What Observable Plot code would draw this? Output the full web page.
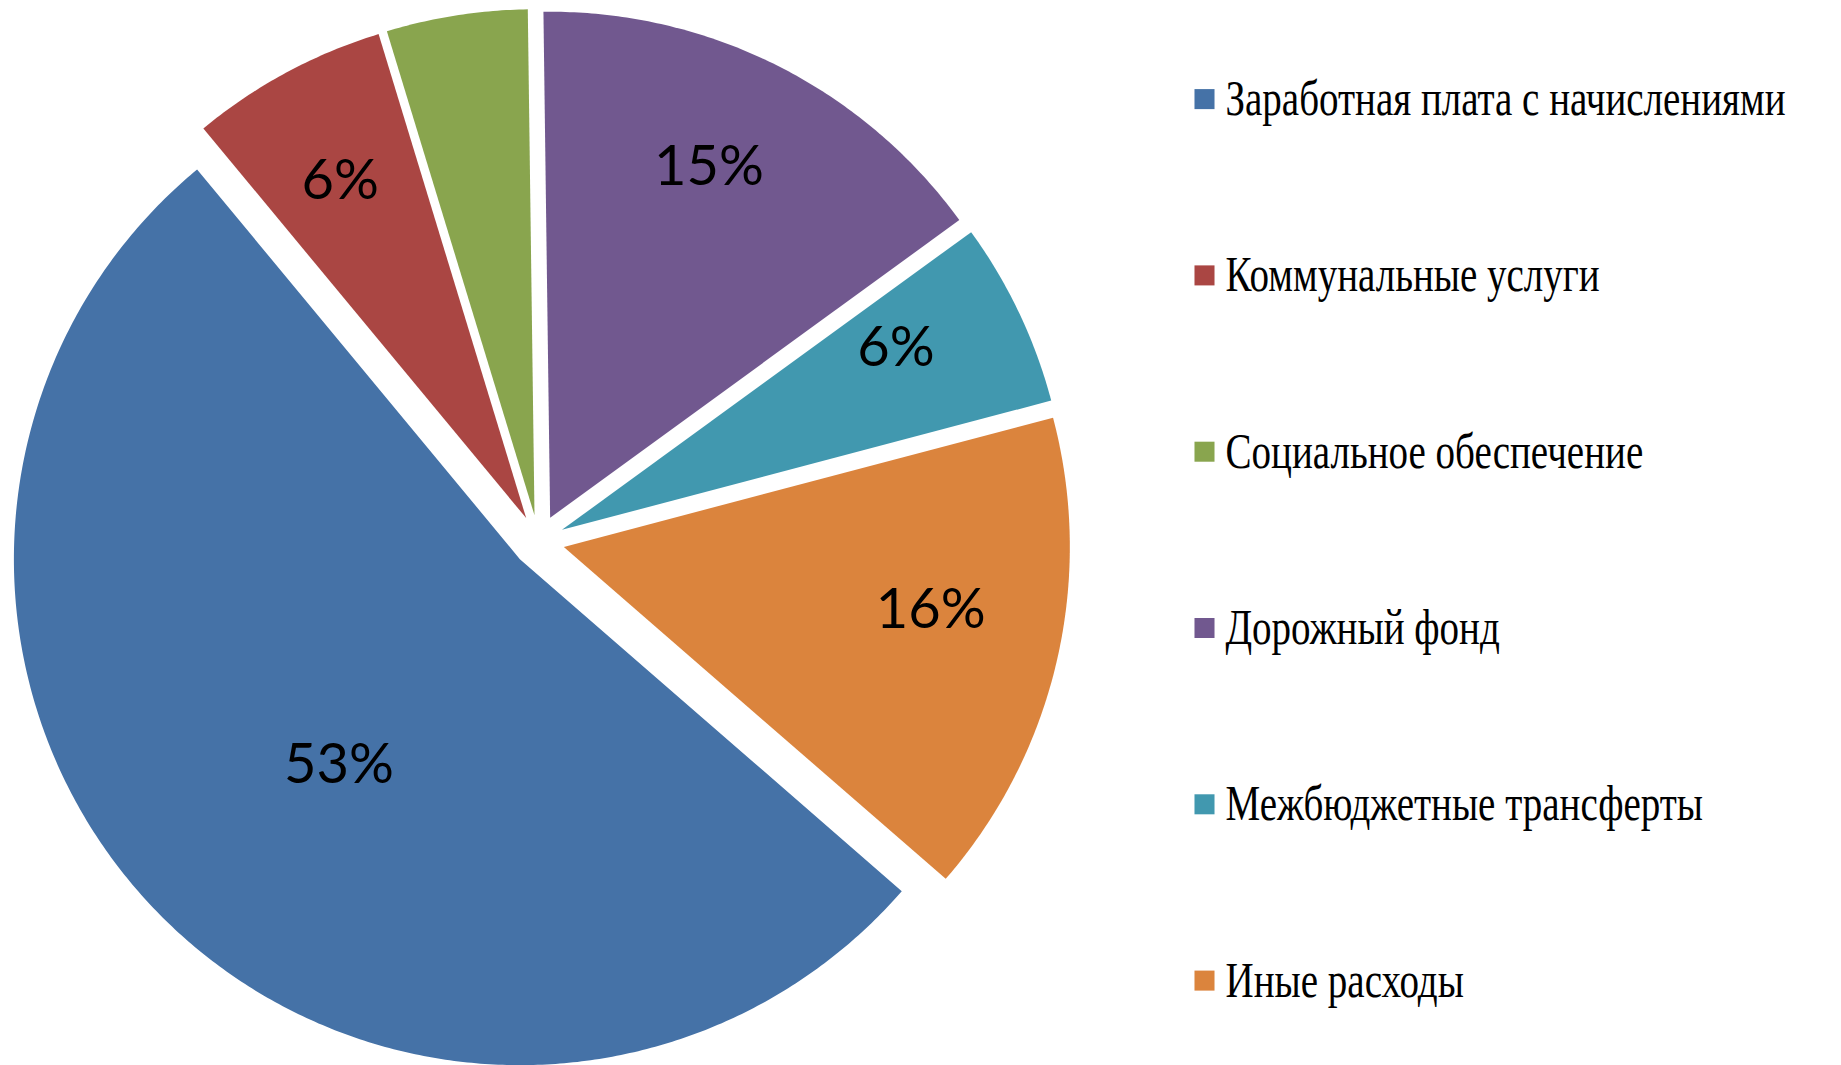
<!DOCTYPE html>
<html>
<head>
<meta charset="utf-8">
<script src="https://cdn.jsdelivr.net/npm/d3@7"></script>
<script src="https://cdn.jsdelivr.net/npm/@observablehq/plot@0.6"></script>
<style>
  html, body { margin: 0; padding: 0; background: #ffffff; }
  #chart svg { display: block; }
</style>
</head>
<body>
<div id="chart"></div>
<script>
// ---- data ----
const categories = [
  "Заработная плата с начислениями",
  "Коммунальные услуги",
  "Социальное обеспечение",
  "Дорожный фонд",
  "Межбюджетные трансферты",
  "Иные расходы"
];
const shares = [52.6, 6.3, 4.5, 15.2, 5.9, 15.5];
const valueLabels = ["53%", "6%", "", "15%", "6%", "16%"];

// ---- styles / layout ----
const colors = ["#4572A7", "#AA4643", "#89A54E", "#71588F", "#4198AF", "#DB843D"];
const W = 1841, H = 1065;
const cx = 538, cy = 540.5, R = 506, explode = 26;
const firstSliceAngle = 131; // degrees clockwise from 12 o'clock
const legendX = 1204, legendTop = 98.6, legendStep = 176.3;
const legendCompress = 0.78;

// ---- geometry from data ----
const total = d3.sum(shares);
const rad = d => d * Math.PI / 180;
const slicePts = [];
const labelPts = [];
let a = firstSliceAngle;
categories.forEach((cat, i) => {
  const span = shares[i] / total * 360;
  const a0 = a, a1 = a + span, mid = a + span / 2;
  const ox = cx + explode * Math.sin(rad(mid));
  const oy = cy - explode * Math.cos(rad(mid));
  slicePts.push({cat, x: ox, y: oy});
  const n = Math.max(2, Math.ceil(span * 2));
  for (let k = 0; k <= n; k++) {
    const t = a0 + span * k / n;
    slicePts.push({cat, x: ox + R * Math.sin(rad(t)), y: oy - R * Math.cos(rad(t))});
  }
  slicePts.push({cat, x: ox, y: oy});
  const lr = R * (span > 180 ? 0.56 : 0.74);
  const la = span > 180 ? mid - 6 : mid - 1.5;
  labelPts.push({cat, text: valueLabels[i], x: ox + lr * Math.sin(rad(la)), y: oy - lr * Math.cos(rad(la))});
  a = a1;
});
const legendRows = categories.map((cat, i) => ({cat, i}));

const chart = Plot.plot({
  width: W,
  height: H,
  margin: 0,
  style: {background: "#ffffff"},
  x: {domain: [0, W], range: [0, W], axis: null},
  y: {domain: [0, H], range: [0, H], axis: null},
  color: {domain: categories, range: colors, legend: false},
  marks: [
    Plot.line(slicePts, {x: "x", y: "y", z: "cat", fill: "cat", stroke: "none", curve: "linear-closed"}),
    Plot.text(labelPts.filter(d => d.text), {
      x: "x", y: "y", text: "text", fill: "#000000", dy: -12,
      fontSize: 56, fontFamily: "Lato, 'Open Sans', sans-serif", textAnchor: "middle"
    }),
    Plot.dot(legendRows, {
      x: () => legendX, y: d => legendTop + d.i * legendStep,
      symbol: "square", r: 11.3, fill: "cat", stroke: "none"
    }),
    Plot.text(legendRows, {
      x: () => legendX + 21, y: d => legendTop + d.i * legendStep,
      text: "cat", textAnchor: "start", fill: "#000000",
      fontSize: 50, fontFamily: "'Liberation Serif', 'Times New Roman', serif",
      className: "legend-text"
    })
  ]
});
document.getElementById("chart").appendChild(chart);
// compress the serif legend text horizontally, like the reference
chart.querySelectorAll(".legend-text text").forEach(t => {
  const len = t.getComputedTextLength();
  t.setAttribute("textLength", (len * legendCompress).toFixed(1));
  t.setAttribute("lengthAdjust", "spacingAndGlyphs");
});
</script>
</body>
</html>
